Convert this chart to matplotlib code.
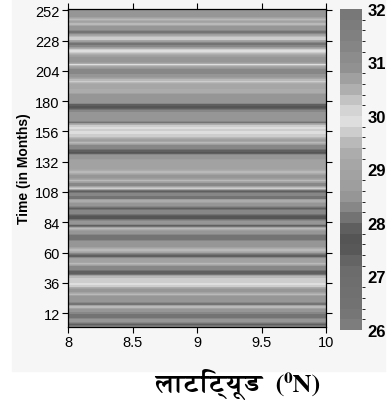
import matplotlib
matplotlib.use("Agg")
import matplotlib.pyplot as plt
import matplotlib.font_manager as fm
from matplotlib.colors import ListedColormap, BoundaryNorm
import numpy as np

# latitude (deg N) and time (months)
lat = [8.0, 9.0, 10.0]
months = np.arange(1, 254, 2)

# SST, one value every 2 months from month 1
sst = [
    28.5, 27.85, 28.5, 28.5, 28.05, 28.05, 28.5, 28.5, 29.75, 28.05,
    28.45, 28.45, 28.45, 29.55, 28.5, 28.5, 29.75, 29.85, 29.75, 29.65,
    29.55, 27.85, 27.85, 28.35, 28.35, 29.55, 28.9, 28.9, 27.85, 28.2,
    29.4, 29.4, 28.5, 28.5, 28.45, 28.05, 28.05, 28.5, 28.5, 29.65,
    27.85, 28.45, 28.45, 27.75, 27.75, 28.35, 28.35, 27.85, 28.5, 28.5,
    29.5, 28.05, 28.2, 28.2, 27.85, 29.85, 28.35, 28.35, 29.65, 28.5,
    28.5, 29.4, 29.4, 28.9, 28.9, 28.9, 28.9, 28.5, 28.5, 27.75,
    27.85, 28.35, 28.35, 29.65, 28.5, 29.55, 29.75, 29.85, 29.75, 29.85,
    29.65, 28.05, 28.5, 28.5, 28.5, 28.5, 28.2, 27.75, 27.85, 28.5,
    28.5, 28.45, 28.45, 29.3, 29.3, 29.0, 29.0, 29.65, 29.55, 28.5,
    28.5, 28.2, 28.2, 28.9, 29.85, 28.5, 28.5, 28.5, 29.3, 29.95,
    29.75, 28.45, 28.05, 28.45, 29.75, 29.65, 28.5, 28.05, 28.5, 28.5,
    29.65, 28.9, 29.65, 28.5, 28.5, 28.5, 28.5,
]

levels = np.arange(26.0, 32.01, 0.2)
# grey shade of each 0.2 band, bottom to top of the colour bar
greys = [125, 118, 114, 112, 110, 108, 100, 88, 85, 95,
         115, 135, 150, 158, 162, 166, 172, 185, 205, 222,
         212, 195, 175, 160, 145, 140, 133, 128, 124, 120]
cbar_ticks = [26, 27, 28, 29, 30, 31, 32]
yticks = [12, 36, 60, 84, 108, 132, 156, 180, 204, 228, 252]
xticks = [8, 8.5, 9, 9.5, 10]

# look for a font that can draw Devanagari
deva = None
for f in fm.fontManager.ttflist:
    n = f.name.lower()
    if "devanagari" in n or "lohit" in n or "mangal" in n or "freeserif" in n:
        deva = f.name
        break

plt.rcParams["font.family"] = ["Liberation Sans", "DejaVu Sans"]

cmap = ListedColormap([(g / 255, g / 255, g / 255) for g in greys])
norm = BoundaryNorm(levels, cmap.N)

fig = plt.figure(figsize=(3.92, 4.06), dpi=100)
fig.patches.append(plt.Rectangle((12 / 392, 34 / 406), 373 / 392, 372 / 406,
                                 transform=fig.transFigure, color="#f6f6f6", zorder=-1))

ax = fig.add_axes([68 / 392, 78 / 406, 258 / 392, 318 / 406])
Z = np.tile(np.array(sst)[:, None], (1, len(lat)))
cs = ax.contourf(lat, months, Z, levels=levels, cmap=cmap, norm=norm)
ax.set_xlim(8, 10)
ax.set_ylim(1, 253)
ax.set_xticks(xticks)
ax.set_xticklabels(["8", "8.5", "9", "9.5", "10"])
ax.set_yticks(yticks)
ax.tick_params(direction="out", length=4, width=0.8, labelsize=10.5,
               top=True, right=True, pad=2)
for s in ax.spines.values():
    s.set_linewidth(0.9)
ax.set_ylabel("Time (in Months)", fontsize=10, fontweight="bold", labelpad=3)

cax = fig.add_axes([340 / 392, 75 / 406, 22 / 392, 321 / 406])
cb = fig.colorbar(cs, cax=cax, ticks=cbar_ticks)
cb.outline.set_visible(False)
cax.tick_params(length=0, labelsize=12, pad=4)
for t in cax.get_yticklabels():
    t.set_fontweight("bold")

fam = [deva, "Liberation Serif", "DejaVu Serif"] if deva else ["Liberation Serif", "DejaVu Serif"]
fig.text(238 / 392, 21 / 406, "लाटिट्यूड  (⁰N)", ha="center", va="center",
         fontsize=19, fontweight="bold", family=fam)

fig.savefig("out.png", dpi=100)
